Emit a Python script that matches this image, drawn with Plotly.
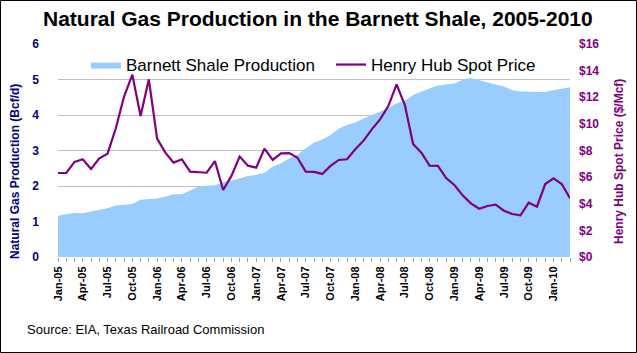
import plotly.graph_objects as go

months = ["Jan-05","Feb-05","Mar-05","Apr-05","May-05","Jun-05","Jul-05","Aug-05","Sep-05","Oct-05","Nov-05","Dec-05",
          "Jan-06","Feb-06","Mar-06","Apr-06","May-06","Jun-06","Jul-06","Aug-06","Sep-06","Oct-06","Nov-06","Dec-06",
          "Jan-07","Feb-07","Mar-07","Apr-07","May-07","Jun-07","Jul-07","Aug-07","Sep-07","Oct-07","Nov-07","Dec-07",
          "Jan-08","Feb-08","Mar-08","Apr-08","May-08","Jun-08","Jul-08","Aug-08","Sep-08","Oct-08","Nov-08","Dec-08",
          "Jan-09","Feb-09","Mar-09","Apr-09","May-09","Jun-09","Jul-09","Aug-09","Sep-09","Oct-09","Nov-09","Dec-09",
          "Jan-10","Feb-10","Mar-10"]

production = [1.16, 1.21, 1.25, 1.23, 1.27, 1.32, 1.37, 1.45, 1.47, 1.49, 1.61, 1.63,
              1.65, 1.70, 1.77, 1.77, 1.87, 1.98, 2.01, 2.02, 2.10, 2.15, 2.21, 2.28,
              2.31, 2.37, 2.54, 2.64, 2.78, 2.87, 3.06, 3.22, 3.31, 3.44, 3.61, 3.72,
              3.79, 3.90, 4.00, 4.09, 4.19, 4.33, 4.40, 4.56, 4.66, 4.75, 4.83, 4.87,
              4.89, 4.99, 5.04, 4.98, 4.91, 4.86, 4.80, 4.70, 4.66, 4.66, 4.66, 4.65,
              4.70, 4.75, 4.78]

price = [6.31, 6.31, 7.14, 7.34, 6.61, 7.41, 7.76, 9.67, 12.05, 13.70, 10.59, 13.35,
         8.89, 7.84, 7.09, 7.34, 6.41, 6.36, 6.33, 7.21, 5.03, 6.09, 7.54, 6.86,
         6.71, 8.14, 7.29, 7.79, 7.81, 7.46, 6.41, 6.39, 6.24, 6.84, 7.29, 7.34,
         8.09, 8.74, 9.59, 10.34, 11.34, 12.97, 11.42, 8.49, 7.84, 6.86, 6.84, 5.93,
         5.41, 4.63, 4.03, 3.63, 3.83, 3.93, 3.48, 3.23, 3.13, 4.08, 3.78, 5.48,
         5.91, 5.48, 4.41]

tick_labels = ["Jan-05","Apr-05","Jul-05","Oct-05","Jan-06","Apr-06","Jul-06","Oct-06",
               "Jan-07","Apr-07","Jul-07","Oct-07","Jan-08","Apr-08","Jul-08","Oct-08",
               "Jan-09","Apr-09","Jul-09","Oct-09","Jan-10"]

x_idx = list(range(len(months)))
tick_pos = [months.index(t) for t in tick_labels]

FONT = "Liberation Sans, Arial, sans-serif"
NAVY = "#000080"
PURPLE = "#800080"

fig = go.Figure()
fig.add_trace(go.Scatter(
    x=x_idx, y=production, name="Barnett Shale Production",
    mode="lines", fill="tozeroy", fillcolor="#99CCFF",
    line=dict(width=0, color="#99CCFF"), legend="legend"))
fig.add_trace(go.Scatter(
    x=x_idx, y=price, name="Henry Hub Spot Price", yaxis="y2",
    mode="lines", line=dict(color=PURPLE, width=2.2), legend="legend2"))

L, R, T, B = 58, 570, 44, 257
W, H = 637, 353
pw, ph = R - L, B - T

def px(x):
    return (x - L) / pw

def py(y):
    return (B - y) / ph

fig.update_layout(
    width=W, height=H,
    margin=dict(l=L, r=W - R, t=T, b=H - B, pad=0),
    paper_bgcolor="white", plot_bgcolor="white",
    font=dict(family=FONT, color="black"),
    showlegend=True,
    legend=dict(x=px(86), y=py(47), xanchor="left", yanchor="top", orientation="h",
                bgcolor="rgba(0,0,0,0)", font=dict(size=17, family=FONT), itemwidth=30),
    legend2=dict(x=px(331), y=py(47), xanchor="left", yanchor="top", orientation="h",
                 bgcolor="rgba(0,0,0,0)", font=dict(size=17, family=FONT), itemwidth=30),
    xaxis=dict(
        range=[0, len(months) - 1], tickmode="array", tickvals=tick_pos, ticktext=tick_labels,
        tickangle=-90, tickfont=dict(size=11, family=FONT, color="black", weight="bold"),
        ticks="outside", ticklen=4, tickcolor="#A0A0A0",
        minor=dict(dtick=1, ticks="outside", ticklen=4, tickcolor="#A0A0A0", showgrid=False),
        showgrid=False, zeroline=False, showline=False),
    yaxis=dict(
        range=[0, 6], dtick=1, tickfont=dict(size=12, family=FONT, color=NAVY, weight="bold"),
        showgrid=True, gridcolor="#C0C0C0", gridwidth=1, zeroline=False, showline=False,
        ticks="", ticklabelstandoff=18),
    yaxis2=dict(
        range=[0, 16], dtick=2, tickprefix="$", overlaying="y", side="right",
        tickfont=dict(size=12, family=FONT, color=PURPLE, weight="bold"),
        showgrid=False, zeroline=False, showline=False, ticks="", ticklabelstandoff=8),
    annotations=[
        dict(text="<b>Natural Gas Production in the Barnett Shale, 2005-2010</b>",
             xref="paper", yref="paper", x=px(318), y=py(18), xanchor="center", yanchor="middle",
             showarrow=False, font=dict(size=21, family=FONT, color="black")),
        dict(text="<b>Natural Gas Production (Bcf/d)</b>", textangle=-90,
             xref="paper", yref="paper", x=px(15), y=py(172), xanchor="center", yanchor="middle",
             showarrow=False, font=dict(size=12, family=FONT, color=NAVY)),
        dict(text="<b>Henry Hub Spot Price ($/Mcf)</b>", textangle=-90,
             xref="paper", yref="paper", x=px(619), y=py(162), xanchor="center", yanchor="middle",
             showarrow=False, font=dict(size=12, family=FONT, color=PURPLE)),
        dict(text="Source: EIA, Texas Railroad Commission",
             xref="paper", yref="paper", x=px(25), y=py(329), xanchor="left", yanchor="middle",
             showarrow=False, font=dict(size=13, family=FONT, color="black")),
    ],
    shapes=[dict(type="rect", xref="paper", yref="paper",
                 x0=px(0.5), x1=px(W - 0.5), y0=py(H - 0.5), y1=py(0.5),
                 line=dict(color="black", width=1), fillcolor="rgba(0,0,0,0)", layer="above")],
)

fig.write_html("out.html")
